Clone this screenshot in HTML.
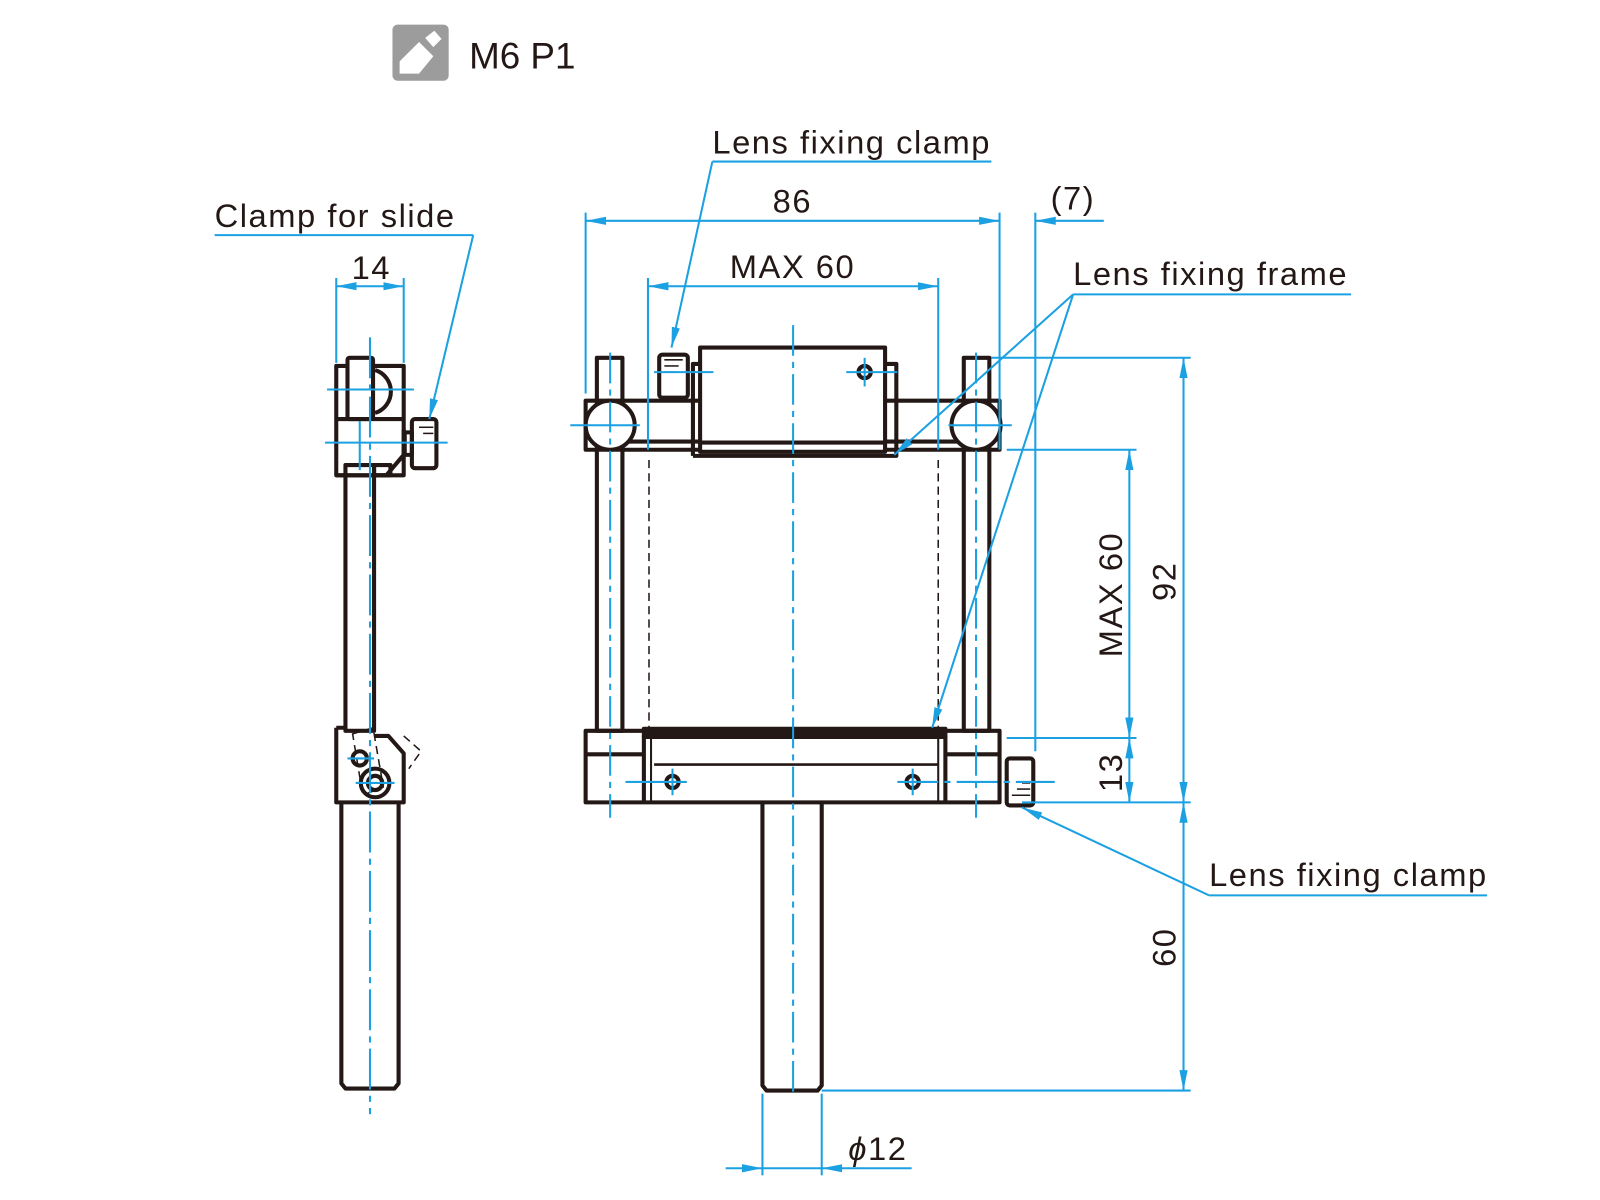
<!DOCTYPE html>
<html><head><meta charset="utf-8"><style>
html,body{margin:0;padding:0;background:#fff}
svg{display:block}
text{font-family:"Liberation Sans",Arial,sans-serif;fill:#231815}
</style></head><body>
<svg width="1600" height="1200" viewBox="0 0 1565.5 1174" xmlns="http://www.w3.org/2000/svg">
<defs>
<marker id="a" viewBox="0 0 20 10" refX="20" refY="5" markerWidth="20" markerHeight="10" markerUnits="userSpaceOnUse" orient="auto-start-reverse">
<path d="M0,1 L20,5 L0,9 Z" fill="#1ba0e2"/></marker>
</defs>
<rect width="1565.5" height="1174" fill="#fff"/>
<!-- header icon -->
<rect x="384" y="24" width="55" height="55" rx="5" fill="#9c9c9c"/>
<path d="M391,60 L410,41 L424,55 L410,72 L391,72 Z" fill="#fff"/>
<path d="M416,37 L425,30 L432,38 L424,46 Z" fill="#fff"/>
<text x="459" y="67" font-size="36">M6 P1</text>

<g fill="none" stroke="#231815" stroke-width="4" stroke-linejoin="round">
<!-- front view top -->
<rect x="573" y="392" width="405" height="48"/>
<line x1="609" y1="432" x2="943" y2="432"/>
<rect x="584" y="350" width="25" height="365"/>
<rect x="943" y="350" width="25" height="365"/>
<circle cx="597" cy="416" r="24" fill="#fff"/>
<circle cx="955" cy="416" r="24" fill="#fff"/>
<rect x="685" y="340" width="181" height="102" fill="#fff"/>
<line x1="685" y1="433" x2="866" y2="433"/>
<path d="M678,446 L678,356 L685,356 M866,356 L877,356 L877,446 L678,446"/>
<rect x="645" y="347" width="28" height="42" rx="3" fill="#fff"/>
<!-- bottom bar -->
<rect x="573" y="715" width="405" height="70"/>
<line x1="573" y1="738" x2="630" y2="738"/>
<line x1="925" y1="738" x2="978" y2="738"/>
<rect x="630" y="713" width="295" height="8" fill="#231815"/>
<line x1="640" y1="748" x2="918" y2="748" stroke-width="2.5"/>
<line x1="630" y1="720" x2="630" y2="785"/>
<line x1="637" y1="722" x2="637" y2="785" stroke-width="2"/>
<line x1="918" y1="722" x2="918" y2="785" stroke-width="2"/>
<line x1="925" y1="720" x2="925" y2="785"/>
<circle cx="658" cy="765" r="6"/>
<circle cx="893" cy="765" r="6"/>
<circle cx="846" cy="364" r="6"/>
<rect x="985" y="742" width="26" height="46" rx="3" fill="#fff"/>
<!-- rod -->
<path d="M746,785 L746,1062 L750,1067 L800,1067 L804,1062 L804,785"/>

<!-- side view -->
<rect x="329" y="358" width="66" height="107"/>
<line x1="329" y1="410" x2="395" y2="410"/>
<rect x="340" y="350" width="25" height="60" rx="2" fill="#fff"/>
<path d="M367,362 A22,22 0 0 1 367,404" />
<path d="M395,420 L395,445 L378,465 L329,465"/>
<rect x="403" y="410" width="24" height="48" rx="3" fill="#fff"/>
<rect x="396" y="423" width="7" height="22"/>
<rect x="338" y="455" width="28" height="260"/>
<rect x="366" y="455" width="16" height="10"/>
<path d="M329,712 L338,712 M366,720 L380,720 L395,737 L395,785 L329,785 L329,712"/>
<circle cx="352" cy="742" r="7"/>
<circle cx="367" cy="766" r="14"/>
<circle cx="367" cy="766" r="7"/>
<path d="M334,785 L334,1060 L338,1065 L386,1065 L390,1060 L390,785"/>
</g>
<g fill="none" stroke="#231815" stroke-width="1.5" stroke-dasharray="8,5">
<line x1="635" y1="450" x2="635" y2="712"/>
<line x1="918" y1="450" x2="918" y2="712"/>
<path d="M345,718 L365,712 L375,770 L355,778 Z"/>
<path d="M395,720 L412,735 L400,752"/>
</g>
<g stroke="#231815" stroke-width="1.5">
<line x1="650" y1="352" x2="668" y2="352"/><line x1="650" y1="358" x2="664" y2="358"/><line x1="650" y1="364" x2="660" y2="364"/>
<line x1="990" y1="778" x2="1008" y2="778"/><line x1="995" y1="772" x2="1008" y2="772"/><line x1="1000" y1="766" x2="1008" y2="766"/>
<line x1="410" y1="418" x2="424" y2="418"/><line x1="414" y1="424" x2="424" y2="424"/>
</g>

<!-- blue lines -->
<g stroke="#1ba0e2" stroke-width="2" fill="none">
<line x1="776" y1="318" x2="776" y2="1070" stroke-dasharray="30,6,6,6"/>
<line x1="597" y1="345" x2="597" y2="800" stroke-dasharray="30,6,6,6"/>
<line x1="955" y1="345" x2="955" y2="800" stroke-dasharray="30,6,6,6"/>
<line x1="362" y1="330" x2="362" y2="1090" stroke-dasharray="40,6,6,6"/>
<line x1="558" y1="416" x2="626" y2="416"/><line x1="928" y1="416" x2="990" y2="416"/>
<line x1="640" y1="364" x2="698" y2="364"/><line x1="828" y1="364" x2="878" y2="364"/><line x1="846" y1="350" x2="846" y2="378"/>
<line x1="612" y1="765" x2="672" y2="765"/><line x1="658" y1="752" x2="658" y2="778"/>
<line x1="878" y1="765" x2="1032" y2="765" stroke-dasharray="40,6,6,6"/><line x1="893" y1="752" x2="893" y2="778"/>
<line x1="320" y1="381" x2="405" y2="381"/><line x1="318" y1="433" x2="438" y2="433"/><line x1="352" y1="412" x2="352" y2="460"/>
<line x1="340" y1="742" x2="366" y2="742"/><line x1="348" y1="766" x2="386" y2="766"/>
<!-- extension lines -->
<line x1="573" y1="208" x2="573" y2="385"/>
<line x1="634" y1="272" x2="634" y2="440"/>
<line x1="918" y1="272" x2="918" y2="440"/>
<line x1="978" y1="208" x2="978" y2="440"/>
<line x1="1013" y1="208" x2="1013" y2="735"/>
<line x1="329" y1="272" x2="329" y2="355"/>
<line x1="395" y1="272" x2="395" y2="355"/>
<line x1="970" y1="350" x2="1165" y2="350"/>
<line x1="985" y1="440" x2="1112" y2="440"/>
<line x1="985" y1="722" x2="1112" y2="722"/>
<line x1="1000" y1="785" x2="1165" y2="785"/>
<line x1="804" y1="1067" x2="1165" y2="1067"/>
<line x1="746" y1="1070" x2="746" y2="1150"/>
<line x1="804" y1="1070" x2="804" y2="1150"/>
<!-- dimension lines -->
<line x1="573" y1="216" x2="978" y2="216" marker-start="url(#a)" marker-end="url(#a)"/>
<line x1="634" y1="280" x2="918" y2="280" marker-start="url(#a)" marker-end="url(#a)"/>
<line x1="329" y1="280" x2="395" y2="280" marker-start="url(#a)" marker-end="url(#a)"/>
<line x1="1080" y1="216" x2="1013" y2="216" marker-end="url(#a)"/>
<line x1="1158" y1="350" x2="1158" y2="785" marker-start="url(#a)" marker-end="url(#a)"/>
<line x1="1158" y1="785" x2="1158" y2="1067" marker-start="url(#a)" marker-end="url(#a)"/>
<line x1="1105" y1="440" x2="1105" y2="722" marker-start="url(#a)" marker-end="url(#a)"/>
<line x1="1105" y1="722" x2="1105" y2="785" marker-start="url(#a)" marker-end="url(#a)"/>
<line x1="710" y1="1143" x2="746" y2="1143" marker-end="url(#a)"/>
<line x1="892" y1="1143" x2="804" y2="1143" marker-end="url(#a)"/>
<line x1="746" y1="1143" x2="804" y2="1143"/>
<!-- leaders -->
<line x1="697" y1="158" x2="970" y2="158"/>
<line x1="697" y1="158" x2="657" y2="340" marker-end="url(#a)"/>
<line x1="1050" y1="288" x2="1322" y2="288"/>
<line x1="1050" y1="288" x2="875" y2="445" marker-end="url(#a)"/>
<line x1="1050" y1="288" x2="912" y2="712" marker-end="url(#a)"/>
<line x1="1183" y1="876" x2="1455" y2="876"/>
<line x1="1183" y1="876" x2="1000" y2="790" marker-end="url(#a)"/>
<line x1="210" y1="230" x2="463" y2="230"/>
<line x1="463" y1="230" x2="420" y2="410" marker-end="url(#a)"/>
</g>

<g font-size="32" letter-spacing="1.5">
<text x="697" y="150">Lens fixing clamp</text>
<text x="1050" y="279">Lens fixing frame</text>
<text x="1183" y="867">Lens fixing clamp</text>
<text x="210" y="222">Clamp for slide</text>
<text x="756" y="208">86</text>
<text x="714" y="272">MAX 60</text>
<text x="344" y="273">14</text>
<text x="1028" y="205">(7)</text>
<text x="830" y="1135"><tspan font-style="italic">ϕ</tspan>12</text>
<text transform="translate(1098,643) rotate(-90)">MAX 60</text>
<text transform="translate(1150,588) rotate(-90)">92</text>
<text transform="translate(1098,775) rotate(-90)">13</text>
<text transform="translate(1150,946) rotate(-90)">60</text>
</g>
</svg>
</body></html>
